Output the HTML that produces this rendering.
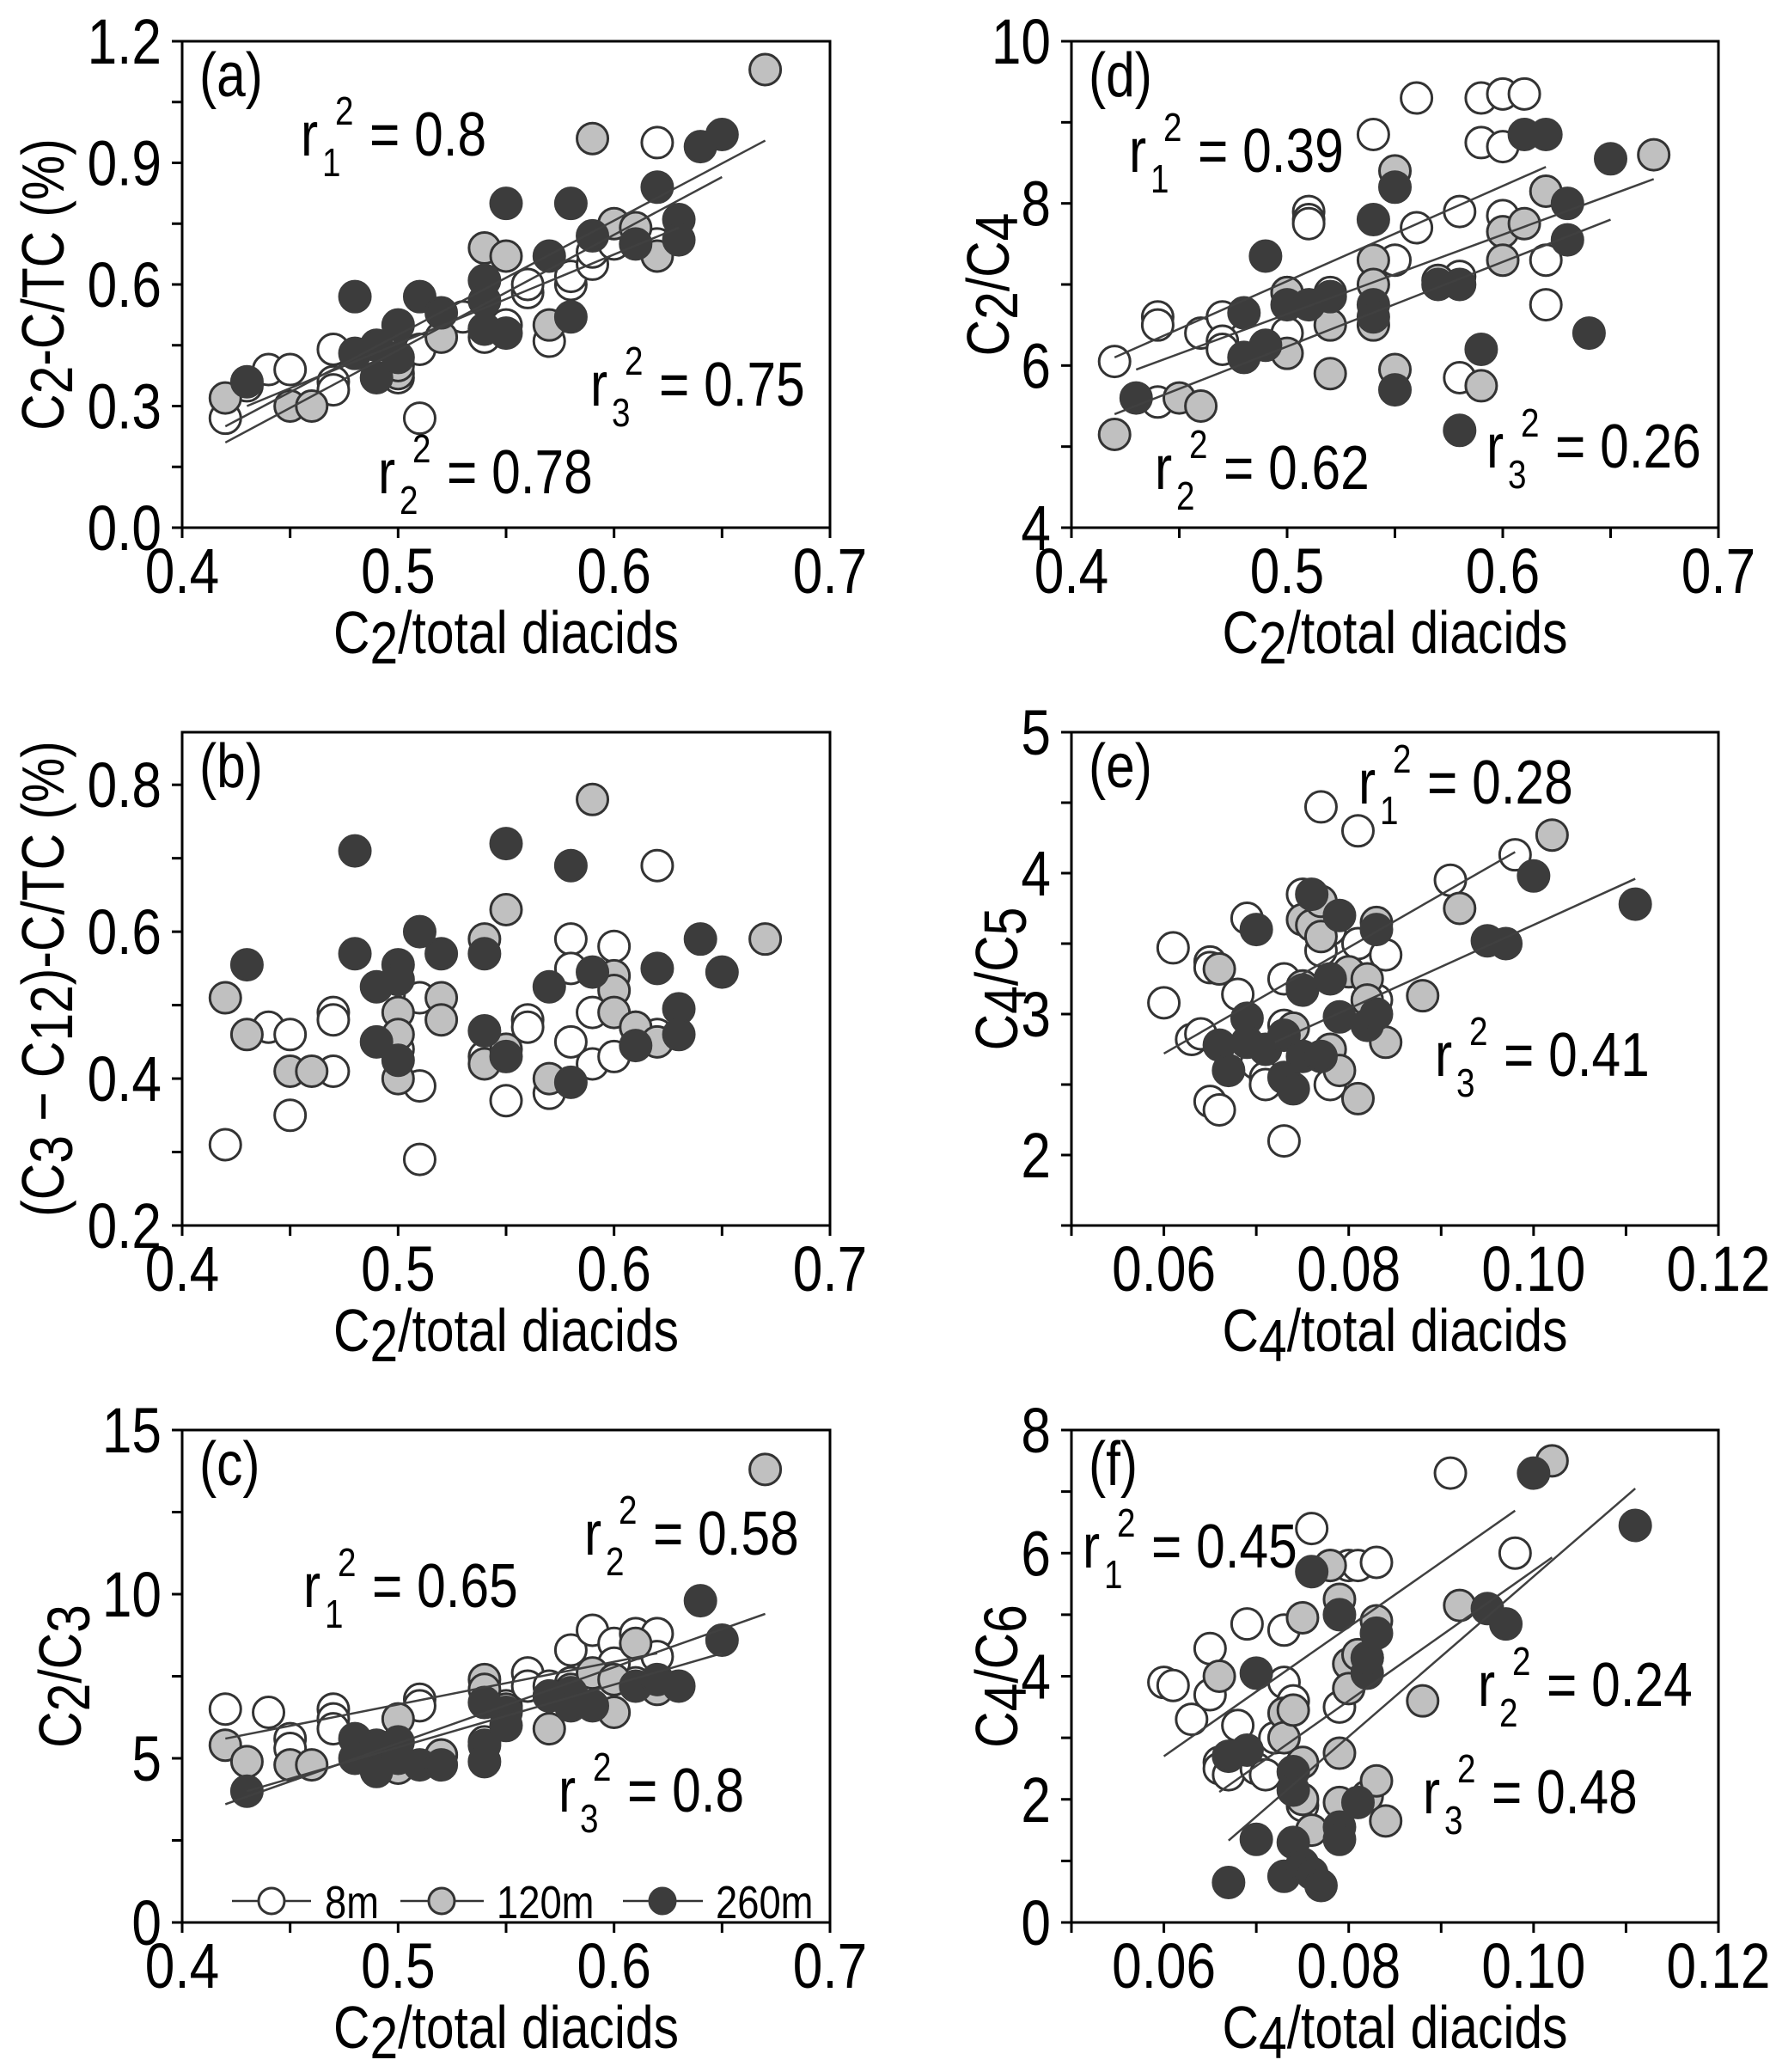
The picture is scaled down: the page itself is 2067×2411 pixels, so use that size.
<!DOCTYPE html>
<html><head><meta charset="utf-8"><style>
html,body{margin:0;padding:0;background:#fff;}
svg{display:block;}
text{font-family:"Liberation Sans",sans-serif;fill:#000;}
</style></head><body>
<svg id="fig" width="2067" height="2411" viewBox="0 0 2067 2411" xmlns="http://www.w3.org/2000/svg"></svg>
<script>
// ---------- data (x, y) per panel & series ----------
const a_8m = [[0.42,0.27],[0.43,0.35],[0.44,0.39],[0.45,0.39],[0.47,0.44],[0.47,0.36],[0.47,0.34],[0.50,0.37],[0.51,0.27],[0.51,0.44],[0.53,0.52],[0.54,0.47],[0.55,0.50],[0.56,0.58],[0.56,0.60],[0.57,0.46],[0.58,0.60],[0.58,0.62],[0.59,0.65],[0.59,0.68],[0.60,0.70],[0.61,0.72],[0.62,0.95],[0.62,0.70]];
const a_120m = [[0.42,0.32],[0.45,0.30],[0.46,0.30],[0.50,0.38],[0.50,0.40],[0.52,0.47],[0.54,0.69],[0.55,0.67],[0.54,0.49],[0.57,0.50],[0.59,0.96],[0.60,0.75],[0.61,0.74],[0.62,0.67],[0.67,1.13]];
const a_260m = [[0.43,0.36],[0.48,0.57],[0.48,0.43],[0.49,0.45],[0.49,0.37],[0.50,0.42],[0.50,0.50],[0.51,0.57],[0.52,0.53],[0.54,0.61],[0.54,0.56],[0.54,0.49],[0.55,0.48],[0.55,0.80],[0.57,0.67],[0.58,0.80],[0.58,0.52],[0.59,0.72],[0.61,0.70],[0.62,0.84],[0.63,0.76],[0.63,0.71],[0.64,0.94],[0.65,0.97]];
const a_fits = [[0.42,0.25,0.67,0.955],[0.42,0.21,0.65,0.865],[0.43,0.30,0.63,0.74]];

const d_8m = [[0.42,6.05],[0.44,6.6],[0.44,6.5],[0.46,6.4],[0.47,6.6],[0.47,6.3],[0.47,6.2],[0.50,6.9],[0.50,6.4],[0.51,7.9],[0.51,7.8],[0.51,7.75],[0.52,6.9],[0.54,8.85],[0.55,7.3],[0.56,9.3],[0.56,7.7],[0.58,7.9],[0.58,7.1],[0.58,5.85],[0.59,9.3],[0.59,8.75],[0.60,9.35],[0.60,8.7],[0.60,7.85],[0.61,9.35],[0.62,7.3],[0.62,6.75],[0.44,5.55]];
const d_120m = [[0.42,5.15],[0.45,5.6],[0.46,5.5],[0.50,6.15],[0.50,6.9],[0.52,6.5],[0.52,5.9],[0.54,7.3],[0.54,7.0],[0.54,6.5],[0.55,8.4],[0.55,5.95],[0.57,7.05],[0.59,5.75],[0.60,7.65],[0.60,7.3],[0.61,7.75],[0.62,8.15],[0.67,8.6]];
const d_260m = [[0.43,5.6],[0.48,6.65],[0.48,6.1],[0.49,7.35],[0.49,6.25],[0.50,6.75],[0.51,6.75],[0.52,6.85],[0.54,7.8],[0.54,6.75],[0.54,6.6],[0.55,8.2],[0.55,5.7],[0.57,7.0],[0.58,7.0],[0.58,5.2],[0.59,6.2],[0.61,8.85],[0.62,8.85],[0.63,8.0],[0.63,7.55],[0.64,6.4],[0.65,8.55]];
const d_fits = [[0.42,6.1,0.62,8.45],[0.43,5.95,0.67,8.3],[0.42,5.4,0.65,7.8]];

const b_8m = [[0.42,0.31],[0.44,0.47],[0.45,0.46],[0.45,0.35],[0.47,0.49],[0.47,0.48],[0.47,0.41],[0.50,0.44],[0.51,0.51],[0.51,0.39],[0.51,0.29],[0.54,0.43],[0.55,0.37],[0.56,0.48],[0.56,0.47],[0.57,0.38],[0.58,0.59],[0.58,0.55],[0.58,0.45],[0.59,0.49],[0.59,0.42],[0.60,0.58],[0.60,0.43],[0.62,0.69],[0.62,0.46],[0.61,0.47]];
const b_120m = [[0.42,0.51],[0.43,0.46],[0.45,0.41],[0.46,0.41],[0.50,0.49],[0.50,0.46],[0.50,0.40],[0.52,0.51],[0.52,0.48],[0.54,0.59],[0.54,0.42],[0.55,0.63],[0.55,0.44],[0.57,0.40],[0.59,0.78],[0.60,0.54],[0.60,0.52],[0.60,0.49],[0.61,0.47],[0.62,0.45],[0.67,0.59]];
const b_260m = [[0.43,0.555],[0.48,0.71],[0.48,0.57],[0.49,0.525],[0.49,0.45],[0.50,0.555],[0.50,0.535],[0.50,0.425],[0.51,0.60],[0.52,0.57],[0.54,0.57],[0.54,0.465],[0.55,0.72],[0.55,0.43],[0.57,0.525],[0.58,0.69],[0.58,0.395],[0.59,0.545],[0.61,0.445],[0.62,0.55],[0.63,0.495],[0.63,0.46],[0.64,0.59],[0.65,0.545]];
const b_fits = [];

const e_8m = [[0.060,3.08],[0.061,3.47],[0.063,2.82],[0.064,2.86],[0.065,3.37],[0.065,3.33],[0.065,2.38],[0.066,2.32],[0.068,3.14],[0.069,3.68],[0.070,2.65],[0.071,2.55],[0.071,2.5],[0.073,3.25],[0.073,2.92],[0.073,2.1],[0.075,3.85],[0.077,4.47],[0.077,3.45],[0.078,3.6],[0.078,2.5],[0.081,4.3],[0.081,3.5],[0.083,3.1],[0.084,3.42],[0.091,3.95],[0.098,4.13]];
const e_120m = [[0.066,3.32],[0.074,2.9],[0.075,3.67],[0.075,3.2],[0.076,3.63],[0.077,3.55],[0.077,3.8],[0.078,2.75],[0.079,2.6],[0.080,3.3],[0.081,2.4],[0.082,3.25],[0.082,3.1],[0.083,3.65],[0.084,2.8],[0.088,3.13],[0.092,3.75],[0.102,4.27]];
const e_260m = [[0.066,2.78],[0.067,2.6],[0.069,2.97],[0.069,2.8],[0.070,3.6],[0.071,2.75],[0.073,2.85],[0.073,2.55],[0.074,2.47],[0.075,2.7],[0.075,3.17],[0.076,3.85],[0.077,2.7],[0.078,3.25],[0.079,3.7],[0.079,2.98],[0.082,2.92],[0.083,3.0],[0.083,3.6],[0.095,3.52],[0.097,3.5],[0.100,3.98],[0.111,3.78]];
const e_fits = [[0.060,2.72,0.098,4.15],[0.072,2.8,0.111,3.96]];

const c_8m = [[0.42,6.5],[0.44,6.4],[0.45,5.6],[0.45,5.3],[0.47,6.5],[0.47,6.2],[0.47,5.9],[0.51,6.8],[0.51,6.6],[0.52,5.1],[0.54,5.5],[0.55,6.6],[0.56,7.6],[0.56,7.2],[0.57,7.2],[0.58,8.3],[0.58,7.3],[0.59,8.9],[0.60,8.5],[0.60,7.9],[0.61,8.8],[0.62,8.8],[0.62,8.1],[0.61,7.3]];
const c_120m = [[0.42,5.4],[0.43,4.9],[0.45,4.8],[0.46,4.8],[0.50,6.2],[0.50,4.7],[0.52,5.1],[0.54,7.4],[0.54,7.1],[0.55,6.5],[0.57,5.9],[0.58,7.1],[0.59,7.6],[0.60,6.4],[0.60,7.4],[0.61,8.5],[0.62,7.1],[0.67,13.8]];
const c_260m = [[0.43,4.0],[0.48,5.6],[0.48,5.0],[0.49,5.4],[0.49,4.6],[0.50,5.5],[0.50,5.0],[0.51,4.8],[0.52,4.8],[0.54,6.7],[0.54,5.4],[0.54,4.9],[0.55,6.4],[0.55,6.0],[0.57,6.9],[0.58,7.0],[0.58,6.6],[0.59,6.6],[0.61,7.2],[0.62,7.4],[0.63,7.2],[0.64,9.8],[0.65,8.6]];
const c_fits = [[0.42,5.6,0.62,8.2],[0.42,3.6,0.67,9.4],[0.43,4.0,0.65,8.2]];

const f_8m = [[0.060,3.9],[0.061,3.85],[0.065,4.45],[0.065,3.7],[0.063,3.3],[0.066,2.6],[0.066,2.5],[0.067,2.4],[0.068,3.2],[0.069,4.85],[0.070,2.5],[0.071,2.4],[0.072,3.0],[0.073,4.75],[0.073,3.9],[0.074,3.6],[0.075,1.9],[0.076,6.4],[0.078,5.8],[0.079,3.5],[0.080,5.8],[0.081,5.8],[0.082,4.3],[0.083,5.85],[0.091,7.3],[0.098,6.0]];
const f_120m = [[0.066,4.0],[0.073,3.4],[0.073,3.0],[0.074,3.45],[0.075,4.95],[0.075,2.6],[0.075,2.0],[0.076,1.5],[0.078,5.8],[0.079,5.25],[0.079,2.75],[0.079,1.95],[0.080,4.2],[0.080,3.8],[0.081,4.35],[0.082,2.05],[0.083,2.3],[0.083,4.9],[0.084,1.65],[0.088,3.6],[0.092,5.15],[0.102,7.5]];
const f_260m = [[0.067,0.65],[0.067,2.7],[0.069,2.8],[0.070,4.05],[0.070,1.35],[0.073,0.75],[0.074,1.3],[0.074,2.45],[0.074,2.15],[0.075,0.95],[0.076,5.7],[0.076,0.8],[0.077,0.6],[0.079,5.0],[0.079,1.55],[0.079,1.35],[0.081,1.95],[0.082,4.05],[0.082,4.3],[0.083,4.7],[0.095,5.1],[0.097,4.85],[0.100,7.3],[0.111,6.45]];
const f_fits = [[0.060,2.7,0.098,6.69],[0.066,2.12,0.102,5.93],[0.067,1.33,0.111,7.05]];

const x_ticks_c2 = [0.4,0.5,0.6,0.7];
const x_labels_c2 = ["0.4","0.5","0.6","0.7"];
const x_ticks_c4 = [0.06,0.08,0.10,0.12];
const x_labels_c4 = ["0.06","0.08","0.10","0.12"];

const NS = "http://www.w3.org/2000/svg";
const svg = document.getElementById('fig');
const SX = 0.84;
function mk(tag, attrs, parent){ const e=document.createElementNS(NS,tag); for(const k in attrs) e.setAttribute(k,attrs[k]); (parent||svg).appendChild(e); return e; }
function txt(x,y,str,size,anchor,parent,rot){
  const t = mk('text',{x:0,y:0,'font-size':size,'text-anchor':anchor||'start',
    transform:`translate(${x},${y})${rot?' rotate(-90)':''} scale(${SX},1)`},parent);
  if(str!==null) t.textContent=str;
  return t;
}

const panels = [
 {id:'a', L:212,R:966,T:48,B:614, xd:[0.4,0.7], yd:[0,1.2], xt:x_ticks_c2, xl:x_labels_c2, xminor:0.05, yt:[0,0.3,0.6,0.9,1.2], yl:["0.0","0.3","0.6","0.9","1.2"], yminor:0.15,
  s:[a_8m,a_120m,a_260m], fits:a_fits, ytitle:[["C"],["2","sub"],["-C/TC (%)"]], ytx:50, xtitle:"C2",
  ann:[[350,181,"1","0.8"],[687,472,"3","0.75"],[440,574,"2","0.78"]]},
 {id:'d', L:1247,R:2000,T:48,B:614, xd:[0.4,0.7], yd:[4,10], xt:x_ticks_c2, xl:x_labels_c2, xminor:0.05, yt:[4,6,8,10], yl:["4","6","8","10"], yminor:1,
  s:[d_8m,d_120m,d_260m], fits:d_fits, ytitle:[["C"],["2","sub"],["/C"],["4","sub"]], ytx:1150, xtitle:"C2",
  ann:[[1314,200,"1","0.39"],[1344,569,"2","0.62"],[1730,544,"3","0.26"]]},
 {id:'b', L:212,R:966,T:852,B:1426, xd:[0.4,0.7], yd:[0.2,0.8716], xt:x_ticks_c2, xl:x_labels_c2, xminor:0.05, yt:[0.2,0.4,0.6,0.8], yl:["0.2","0.4","0.6","0.8"], yminor:0.1,
  s:[b_8m,b_120m,b_260m], fits:b_fits, ytitle:[["(C"],["3","sub"],[" \u2212 C"],["12","sub"],[")-C/TC (%)"]], ytx:50, xtitle:"C2", ann:[]},
 {id:'e', L:1247,R:2000,T:852,B:1426, xd:[0.05,0.12], yd:[1.5,5], xt:x_ticks_c4, xl:x_labels_c4, xminor:0.01, yt:[2,3,4,5], yl:["2","3","4","5"], yminor:0.5,
  s:[e_8m,e_120m,e_260m], fits:e_fits, ytitle:[["C"],["4","sub"],["/C"],["5","sub"]], ytx:1160, xtitle:"C4",
  ann:[[1581,935,"1","0.28"],[1670,1252,"3","0.41"]]},
 {id:'c', L:212,R:966,T:1664,B:2237, xd:[0.4,0.7], yd:[0,15], xt:x_ticks_c2, xl:x_labels_c2, xminor:0.05, yt:[0,5,10,15], yl:["0","5","10","15"], yminor:2.5,
  s:[c_8m,c_120m,c_260m], fits:c_fits, ytitle:[["C"],["2","sub"],["/C"],["3","sub"]], ytx:70, xtitle:"C2",
  ann:[[353,1870,"1","0.65"],[680,1809,"2","0.58"],[650,2108,"3","0.8"]]},
 {id:'f', L:1247,R:2000,T:1664,B:2237, xd:[0.05,0.12], yd:[0,8], xt:x_ticks_c4, xl:x_labels_c4, xminor:0.01, yt:[0,2,4,6,8], yl:["0","2","4","6","8"], yminor:1,
  s:[f_8m,f_120m,f_260m], fits:f_fits, ytitle:[["C"],["4","sub"],["/C"],["6","sub"]], ytx:1160, xtitle:"C4",
  ann:[[1260,1824,"1","0.45"],[1720,1985,"2","0.24"],[1656,2110,"3","0.48"]]}
];
const fills = ['#ffffff','#c0c0c0','#3c3c3c'];
const strokes = ['#333333','#333333','#3c3c3c'];
const seriesNames = ['8m','120m','260m'];

panels.forEach(p=>{
  const g = mk('g',{});
  
  
  const X = v => p.L + (v-p.xd[0])/(p.xd[1]-p.xd[0])*(p.R-p.L);
  const Y = v => p.B - (v-p.yd[0])/(p.yd[1]-p.yd[0])*(p.B-p.T);
  for(let v=p.xd[0]; v<=p.xd[1]+1e-9; v+=p.xminor){
    const t = mk('line',{x1:X(v),x2:X(v),y1:p.B,y2:p.B+12,stroke:'#000','stroke-width':3},g);
     
  }
  for(let v=p.yd[0]; v<=p.yd[1]+1e-9; v+=p.yminor){
    const t = mk('line',{x1:p.L-12,x2:p.L,y1:Y(v),y2:Y(v),stroke:'#000','stroke-width':3},g);
     
  }
  p.xt.forEach((v,i)=>{
    const t = txt(X(v),p.B+76,p.xl[i],74,'middle',g);
     
  });
  p.yt.forEach((v,i)=>{
    const t = txt(p.L-24,Y(v)+26,p.yl[i],74,'end',g);
     
  });
  p.s.forEach((arr,si)=>{
    arr.forEach(pt=>{
      const c = mk('circle',{cx:X(pt[0]),cy:Y(pt[1]),r:18,fill:fills[si],stroke:strokes[si],'stroke-width':3},g);
      
      
    });
  });
  p.fits.forEach(f=>{
    const l = mk('line',{x1:X(f[0]),y1:Y(f[1]),x2:X(f[2]),y2:Y(f[3]),stroke:'#404040','stroke-width':2.5},g);
     
  });
  const fr = mk('rect',{x:p.L,y:p.T,width:p.R-p.L,height:p.B-p.T,fill:'none',stroke:'#000','stroke-width':3},g);
   
  const pl = txt(p.L+20,p.T+64,'('+p.id+')',72,'start',g);
   
  p.ann.forEach(a=>{
    const t = txt(a[0],a[1],'r',72,'start',g);
     
    const s1 = txt(a[0]+25,a[1]+24,a[2],46,'start',g);
     
    const s2 = txt(a[0]+40,a[1]-36,'2',46,'start',g);
     
    const eq = txt(a[0]+80,a[1],'= '+a[3],72,'start',g);
     
  });
  const xt = txt((p.L+p.R)/2,p.B+146,null,70,'middle',g);
   
  const t1 = mk('tspan',{},xt); t1.textContent='C';
  const t2 = mk('tspan',{dy:12},xt); t2.textContent=p.xtitle.slice(1);
  const t3 = mk('tspan',{dy:-12},xt); t3.textContent='/total diacids';
  const cy = (p.T+p.B)/2;
  const yt = txt(p.ytx+24,cy,null,70,'middle',g,true);
   
  let prevSub=false;
  p.ytitle.forEach(part=>{
    const sub = part[1]==='sub';
    const ts = mk('tspan',{},yt);
    if(sub && !prevSub) ts.setAttribute('dy',10);
    if(!sub && prevSub) ts.setAttribute('dy',-10);
    ts.textContent=part[0];
    prevSub=sub;
  });
});

const lg = mk('g',{});
 
const legX = [[270,362,316,378],[466,563,514,578],[725,818,771,833]];
const legY = 2212;
legX.forEach((L,i)=>{
  const e = mk('g',{},lg);
   
  mk('line',{x1:L[0],x2:L[1],y1:legY,y2:legY,stroke:'#333','stroke-width':2.5},e);
  mk('circle',{cx:L[2],cy:legY,r:15,fill:fills[i],stroke:strokes[i],'stroke-width':3},e);
  txt(L[3],legY+20,seriesNames[i],54,'start',e);
});
</script>
</body></html>
